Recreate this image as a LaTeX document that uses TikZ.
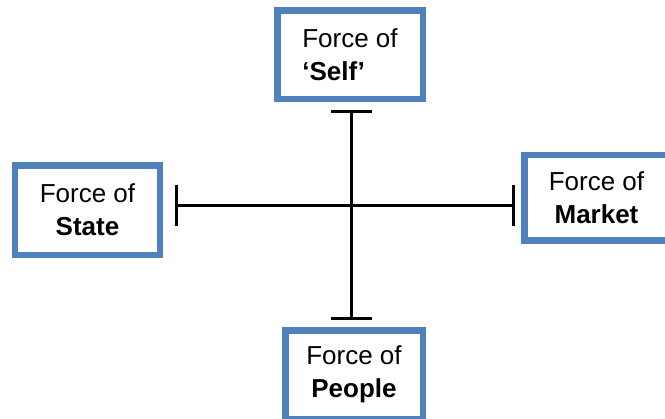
\documentclass[tikz,border=0pt]{standalone}
\usepackage{fontspec}
\setmainfont{Liberation Sans}
\usetikzlibrary{arrows.meta}
\definecolor{boxblue}{HTML}{4F81BD}
\begin{document}
\begin{tikzpicture}[x=1bp,y=-1bp,
  forcebox/.style={draw=boxblue, line width=6.5bp, fill=white, inner sep=0pt,
    font=\fontsize{26bp}{33bp}\selectfont, align=center},
  axis/.style={line width=3bp, {Bar[width=41bp]}-{Bar[width=41bp]}}]
\useasboundingbox (0,0) rectangle (665,418);
\clip (0,0) rectangle (665,418);
\node[forcebox, minimum width=145.5bp, minimum height=88.5bp, align=left] (self) at (350,54.5) {Force of\\\textbf{‘Self’}};
\node[forcebox, minimum width=144.5bp, minimum height=89.5bp] (state) at (87.5,210) {Force of\\\textbf{State}};
\node[forcebox, minimum width=144.5bp, minimum height=85.5bp] (market) at (596.5,197.5) {Force of\\\textbf{Market}};
\node[forcebox, minimum width=137.5bp, minimum height=88.5bp] (people) at (354,374.5) {Force of\\\textbf{People}};
\coordinate (vtop) at (351.5,109.5);
\coordinate (vbot) at (351.5,319.5);
\coordinate (hleft) at (174.5,205);
\coordinate (hright) at (514.5,205);
\draw[axis] (vtop) -- (vbot);
\draw[axis] (hleft) -- (hright);
\end{tikzpicture}
\end{document}
